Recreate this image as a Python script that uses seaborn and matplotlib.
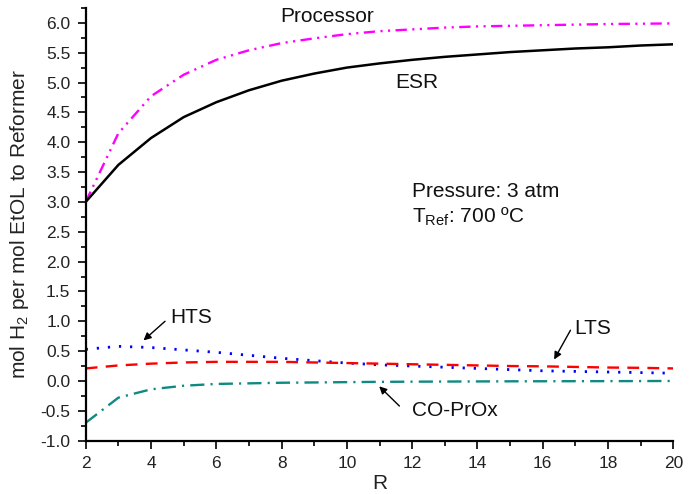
import matplotlib
matplotlib.use("Agg")
import matplotlib.pyplot as plt
from matplotlib.ticker import MultipleLocator
import seaborn as sns
import pandas as pd

# Steam-to-ethanol ratio R and hydrogen yield per unit (mol H2 / mol EtOH fed)
R = [2, 3, 4, 5, 6, 7, 8, 9, 10, 11, 12, 13, 14, 15, 16, 17, 18, 19, 20]
processor = [3.00, 4.15, 4.77, 5.13, 5.38, 5.54, 5.66, 5.74, 5.81, 5.86,
             5.89, 5.92, 5.94, 5.95, 5.96, 5.97, 5.98, 5.985, 5.99]
esr = [3.00, 3.62, 4.07, 4.42, 4.67, 4.87, 5.03, 5.15, 5.25, 5.32,
       5.38, 5.43, 5.47, 5.51, 5.54, 5.57, 5.59, 5.62, 5.64]
hts = [0.53, 0.58, 0.56, 0.52, 0.48, 0.43, 0.38, 0.34, 0.30, 0.27,
       0.25, 0.23, 0.21, 0.19, 0.17, 0.16, 0.15, 0.14, 0.13]
lts = [0.21, 0.26, 0.29, 0.31, 0.32, 0.32, 0.32, 0.31, 0.30, 0.29,
       0.28, 0.27, 0.26, 0.25, 0.245, 0.235, 0.225, 0.22, 0.21]
coprox = [-0.70, -0.28, -0.14, -0.08, -0.05, -0.04, -0.03, -0.025, -0.02, -0.015,
          -0.012, -0.01, -0.008, -0.006, -0.005, -0.004, -0.003, -0.002, 0.0]

df = pd.DataFrame({"R": R, "Processor": processor, "ESR": esr,
                   "HTS": hts, "LTS": lts, "CO-PrOx": coprox})

sns.set_style("ticks")
plt.rcParams["font.family"] = ["Liberation Sans", "DejaVu Sans"]

fig = plt.figure(figsize=(6.97, 4.94), dpi=100)
ax = fig.add_axes([0.123, 0.108, 0.843, 0.876])

styles = {
    "Processor": dict(color="#ff00ff", lw=1.7, dashes=(4.8, 2.3, 0.9, 2.3, 0.9, 2.3)),
    "ESR": dict(color="black", lw=1.8, dashes=()),
    "HTS": dict(color="#0000ff", lw=2.0, dashes=(0.8, 3.2)),
    "LTS": dict(color="#ff0000", lw=1.7, dashes=(5.0, 3.5)),
    "CO-PrOx": dict(color="#0f8a82", lw=1.7, dashes=(6.0, 2.6, 0.9, 2.6)),
}
for name, st in styles.items():
    sns.lineplot(data=df, x="R", y=name, ax=ax, color=st["color"], lw=st["lw"])
    if st["dashes"]:
        ax.lines[-1].set_dashes(st["dashes"])

ax.xaxis.set_major_locator(MultipleLocator(2))
ax.xaxis.set_minor_locator(MultipleLocator(1))
ax.yaxis.set_major_locator(MultipleLocator(0.5))
ax.yaxis.set_minor_locator(MultipleLocator(0.25))
ax.set_xlim(2, 20)
ax.set_ylim(-1.0, 6.25)
ax.yaxis.set_major_formatter(matplotlib.ticker.FormatStrFormatter("%.1f"))
ax.tick_params(which="major", direction="out", length=6, width=1.2,
               labelsize=12.5, pad=5, color="black", labelcolor="#222222")
ax.tick_params(which="minor", direction="out", length=3.5, width=1.2, color="black")

for side in ("top", "right"):
    ax.spines[side].set_visible(False)
for side in ("left", "bottom"):
    ax.spines[side].set_linewidth(1.6)
    ax.spines[side].set_color("black")

ax.set_xlabel("R", fontsize=15, labelpad=2, color="#222222")
ax.set_ylabel(r"mol H$_\mathregular{2}$ per mol EtOL to Reformer", fontsize=15,
              labelpad=7, color="#222222")

txt = dict(fontsize=15, color="#111111")
ax.text(9.41, 6.02, "Processor", ha="center", va="baseline", **txt)
ax.text(12.15, 4.90, "ESR", ha="center", va="baseline", **txt)
ax.text(11.98, 3.09, "Pressure: 3 atm", ha="left", va="baseline", **txt)
ax.text(11.98, 2.65, r"T$_\mathregular{Ref}$: 700 ºC", ha="left", va="baseline", **txt)
ax.text(4.58, 0.97, "HTS", ha="left", va="baseline", **txt)
ax.text(16.96, 0.79, "LTS", ha="left", va="baseline", **txt)
ax.text(11.98, -0.59, "CO-PrOx", ha="left", va="baseline", **txt)

arrow = dict(arrowstyle="-|>", color="black", lw=1.0, mutation_scale=11,
             shrinkA=0, shrinkB=0)
ax.annotate("", xy=(3.77, 0.68), xytext=(4.43, 1.0), arrowprops=arrow)
ax.annotate("", xy=(16.35, 0.36), xytext=(16.85, 0.85), arrowprops=arrow)
ax.annotate("", xy=(10.99, -0.09), xytext=(11.61, -0.42), arrowprops=arrow)

fig.savefig("out.png", dpi=100)
